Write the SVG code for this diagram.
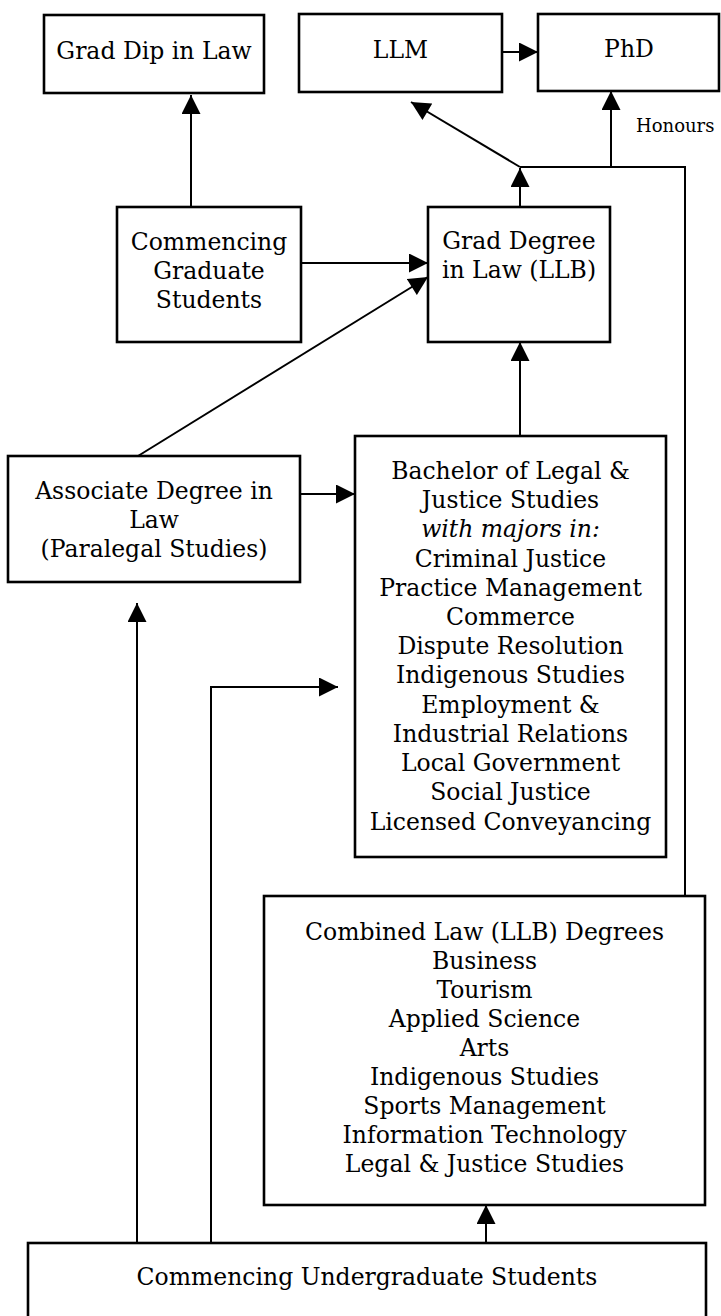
<svg xmlns="http://www.w3.org/2000/svg" width="721" height="1316" viewBox="0 0 721 1316">
<style>
.box{fill:#fff;stroke:#000;stroke-width:2.6}
.t{font-family:"DejaVu Serif","Liberation Serif",serif;font-size:23.5px;fill:#000;text-anchor:middle}
.it{font-style:italic}
.small{font-family:"DejaVu Serif","Liberation Serif",serif;font-size:18px;fill:#000}
.c{fill:none;stroke:#000;stroke-width:2}
</style>
<defs>
<marker id="ah" viewBox="0 0 20 20" refX="20" refY="10" markerWidth="20" markerHeight="19" markerUnits="userSpaceOnUse" orient="auto">
<path d="M0,0 L20,10 L0,20 z" fill="#000"/>
</marker>
</defs>
<rect width="721" height="1316" fill="#fff"/>
<g id="connectors">
<line class="c" x1="191" y1="207" x2="191" y2="95" marker-end="url(#ah)"/>
<line class="c" x1="502" y1="52" x2="538" y2="52" marker-end="url(#ah)"/>
<line class="c" x1="611" y1="167" x2="611" y2="91" marker-end="url(#ah)"/>
<polyline class="c" points="520,167 685,167 685,896"/>
<line class="c" x1="520" y1="167" x2="411" y2="102" marker-end="url(#ah)"/>
<line class="c" x1="520" y1="207" x2="520" y2="168" marker-end="url(#ah)"/>
<line class="c" x1="301" y1="263" x2="428" y2="263" marker-end="url(#ah)"/>
<line class="c" x1="138" y1="456" x2="428" y2="277" marker-end="url(#ah)"/>
<line class="c" x1="520" y1="436" x2="520" y2="342" marker-end="url(#ah)"/>
<line class="c" x1="301" y1="494" x2="355" y2="494" marker-end="url(#ah)"/>
<line class="c" x1="137" y1="1243" x2="137" y2="603" marker-end="url(#ah)"/>
<polyline class="c" points="211,1243 211,687 338,687" marker-end="url(#ah)"/>
<line class="c" x1="486" y1="1243" x2="486" y2="1205" marker-end="url(#ah)"/>
</g>
<g id="grad-dip">
<rect class="box" x="44" y="15" width="220" height="78"/>
<text class="t" x="154" y="59">Grad Dip in Law</text>
</g>
<g id="llm">
<rect class="box" x="299" y="14" width="203" height="78"/>
<text class="t" x="400.5" y="58">LLM</text>
</g>
<g id="phd">
<rect class="box" x="538" y="14" width="181" height="77"/>
<text class="t" x="629" y="57">PhD</text>
</g>
<g id="honours-label">
<text class="small" x="636" y="132">Honours</text>
</g>
<g id="commencing-graduate">
<rect class="box" x="117" y="207" width="184" height="135"/>
<text class="t" x="209" y="250">Commencing</text>
<text class="t" x="209" y="279">Graduate</text>
<text class="t" x="209" y="308">Students</text>
</g>
<g id="grad-degree">
<rect class="box" x="428" y="207" width="182" height="135"/>
<text class="t" x="519" y="249">Grad Degree</text>
<text class="t" x="519" y="278">in Law (LLB)</text>
</g>
<g id="associate">
<rect class="box" x="8" y="456" width="292" height="126"/>
<text class="t" x="154" y="499">Associate Degree in</text>
<text class="t" x="154" y="528">Law</text>
<text class="t" x="154" y="557">(Paralegal Studies)</text>
</g>
<g id="bachelor">
<rect class="box" x="355" y="436" width="311" height="421"/>
<text class="t" x="510.5" y="479">Bachelor of Legal &amp;</text>
<text class="t" x="510.5" y="508">Justice Studies</text>
<text class="t it" x="510.5" y="537">with majors in:</text>
<text class="t" x="510.5" y="567">Criminal Justice</text>
<text class="t" x="510.5" y="596">Practice Management</text>
<text class="t" x="510.5" y="625">Commerce</text>
<text class="t" x="510.5" y="654">Dispute Resolution</text>
<text class="t" x="510.5" y="683">Indigenous Studies</text>
<text class="t" x="510.5" y="713">Employment &amp;</text>
<text class="t" x="510.5" y="742">Industrial Relations</text>
<text class="t" x="510.5" y="771">Local Government</text>
<text class="t" x="510.5" y="800">Social Justice</text>
<text class="t" x="510.5" y="830">Licensed Conveyancing</text>
</g>
<g id="combined">
<rect class="box" x="264" y="896" width="441" height="309"/>
<text class="t" x="484.5" y="939.5">Combined Law (LLB) Degrees</text>
<text class="t" x="484.5" y="968.5">Business</text>
<text class="t" x="484.5" y="997.5">Tourism</text>
<text class="t" x="484.5" y="1026.5">Applied Science</text>
<text class="t" x="484.5" y="1055.5">Arts</text>
<text class="t" x="484.5" y="1084.5">Indigenous Studies</text>
<text class="t" x="484.5" y="1113.5">Sports Management</text>
<text class="t" x="484.5" y="1142.5">Information Technology</text>
<text class="t" x="484.5" y="1171.5">Legal &amp; Justice Studies</text>
</g>
<g id="commencing-undergraduate">
<rect class="box" x="28" y="1243" width="678" height="100"/>
<text class="t" x="367" y="1285">Commencing Undergraduate Students</text>
</g>
</svg>
